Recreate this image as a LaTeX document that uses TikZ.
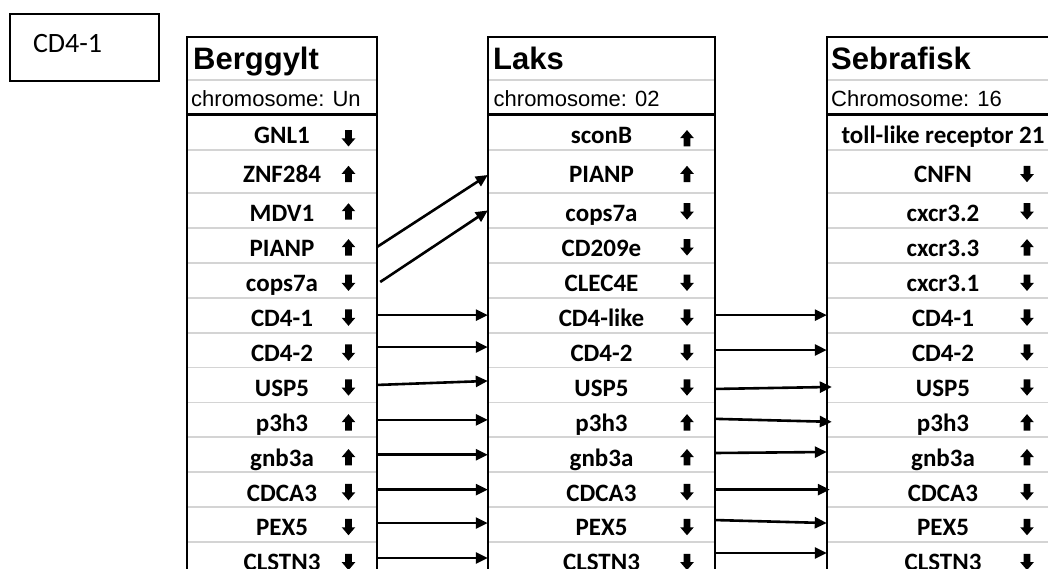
\documentclass[tikz,border=0pt]{standalone}
\usepackage{fontspec}
\setmainfont{Liberation Sans}
\newfontfamily\calib{Carlito}
\usetikzlibrary{arrows.meta}
\definecolor{gridgray}{HTML}{D4D4D4}

\tikzset{
  tblborder/.style={line width=2.7pt, black},
  gridline/.style={line width=1.8pt, gridgray},
  conn/.style={line width=2.6pt, -{Triangle[length=12pt,width=11pt]}},
  hdrtitle/.style={anchor=base west, inner sep=0pt, font=\fontsize{31}{36}\selectfont\bfseries},
  hdrchrom/.style={anchor=base west, inner sep=0pt, font=\fontsize{22}{26}\selectfont},
  genecell/.style={inner sep=0pt, text height=23pt, text depth=0.2pt,
    font=\calib\fontsize{25}{30}\selectfont\bfseries},
  tagbox/.style={draw, line width=2pt, anchor=north west, inner xsep=23pt, inner ysep=0pt,
    text width=103pt, align=left, minimum height=67pt, text height=10pt, text depth=0.3pt,
    font=\calib\fontsize{28}{32}\selectfont},
  uparr/.pic={\fill (0,-8.2) -- (6.8,-0.2) -- (3.3,-0.2) -- (3.3,8.2) -- (-3.3,8.2)
    -- (-3.3,-0.2) -- (-6.8,-0.2) -- cycle;},
  dnarr/.pic={\fill (0,8.2) -- (6.8,0.2) -- (3.3,0.2) -- (3.3,-8.2) -- (-3.3,-8.2)
    -- (-3.3,0.2) -- (-6.8,0.2) -- cycle;},
}

\begin{document}
\begin{tikzpicture}[x=1pt, y=-1pt]
\useasboundingbox (0,0) rectangle (1048,569);
\clip (0,0) rectangle (1048,569);

% label box in the corner
\node[tagbox] (tag) at (9,13) {CD4-1};

% light grid lines inside the three tables
\foreach \y in {80,150,193,227.9,262.8,297.7,332.6,367.5,402.4,437.3,472.2,507.1,542} {
  \draw[gridline] (187,\y) -- (377,\y);
  \draw[gridline] (488,\y) -- (715,\y);
  \draw[gridline] (827,\y) -- (1060,\y);
}

% table frames
\draw[tblborder] (187,590) -- (187,37) -- (377,37) -- (377,590);
\draw[tblborder] (187,114.5) -- (377,114.5);
\draw[tblborder] (488,590) -- (488,37) -- (715,37) -- (715,590);
\draw[tblborder] (488,114.5) -- (715,114.5);
\draw[tblborder] (827,590) -- (827,37) -- (1060,37);
\draw[tblborder] (827,114.5) -- (1060,114.5);

% table headers
\node[hdrtitle] (bTitle) at (193,70) {Berggylt};
\node[hdrchrom] (bChrom) at (191,107) {chromosome: Un};
\node[hdrtitle] (lTitle) at (493,70) {Laks};
\node[hdrchrom] (lChrom) at (493.5,107) {chromosome: 02};
\node[hdrtitle] (sTitle) at (831,70) {Sebrafisk};
\node[hdrchrom] (sChrom) at (831,107) {Chromosome: 16};

% gene rows: index / centre / height / icon offset / three gene names with strand direction
\foreach \i/\c/\h/\o/\bg/\bd/\lg/\ld/\sg/\sd in {
  1/132.25/35.5/6/GNL1/d/sconB/u/toll-like receptor 21/n,
  2/171.5/43/2.5/ZNF284/u/PIANP/u/CNFN/d,
  3/210.45/34.9/1/MDV1/u/cops7a/d/cxcr3.2/d,
  4/245.35/34.9/2/PIANP/u/CD209e/d/cxcr3.3/u,
  5/280.25/34.9/2.5/cops7a/d/CLEC4E/d/cxcr3.1/d,
  6/315.15/34.9/2.5/CD4-1/d/CD4-like/d/CD4-1/d,
  7/350.05/34.9/2.5/CD4-2/d/CD4-2/d/CD4-2/d,
  8/384.95/34.9/2.5/USP5/d/USP5/d/USP5/d,
  9/419.85/34.9/2.5/p3h3/u/p3h3/u/p3h3/u,
  10/454.75/34.9/2.5/gnb3a/u/gnb3a/u/gnb3a/u,
  11/489.65/34.9/2.5/CDCA3/d/CDCA3/d/CDCA3/d,
  12/524.55/34.9/2.5/PEX5/d/PEX5/d/PEX5/d,
  13/559.45/34.9/2.5/CLSTN3/d/CLSTN3/d/CLSTN3/d} {
  \node[genecell, minimum width=190, minimum height=\h] (b\i) at (282,\c) {\bg};
  \node[genecell, minimum width=227, minimum height=\h] (l\i) at (601.5,\c) {\lg};
  \node[genecell, minimum width=232, minimum height=\h] (s\i) at (943,\c) {\sg};
  \if u\bd \pic at (348.5,\c+\o) {uparr}; \else \pic at (348.5,\c+\o) {dnarr}; \fi
  \if u\ld \pic at (687,\c+\o) {uparr}; \else \pic at (687,\c+\o) {dnarr}; \fi
  \if u\sd \pic at (1027,\c+\o) {uparr}; \else \if d\sd \pic at (1027,\c+\o) {dnarr}; \fi \fi
}

% Berggylt -> Laks
\draw[conn] ([yshift=-1.5]b4.east) -- ([yshift=-3.5]l2.west);
\draw[conn] ([xshift=3,yshift=-1.75]b5.east) -- (l3.west);
\foreach \i/\sa/\sb in {6/0/0, 7/3/3, 8/0/4, 9/0/0, 10/0/0, 11/0/0, 12/1.5/1.5, 13/1.5/1.5}
  \draw[conn] ([yshift=\sa]b\i.east) -- ([yshift=\sb]l\i.west);

% Laks -> Sebrafisk
\foreach \i/\sa/\sb/\tx in {6/0/0/0, 7/0/0/0, 8/-4/-2/5, 9/1/-2/5, 10/1.75/2.75/0,
    11/0/0/3, 12/4.5/1.5/0, 13/6.5/6.5/0}
  \draw[conn] ([yshift=\sa]l\i.east) -- ([xshift=\tx,yshift=\sb]s\i.west);
\end{tikzpicture}
\end{document}
